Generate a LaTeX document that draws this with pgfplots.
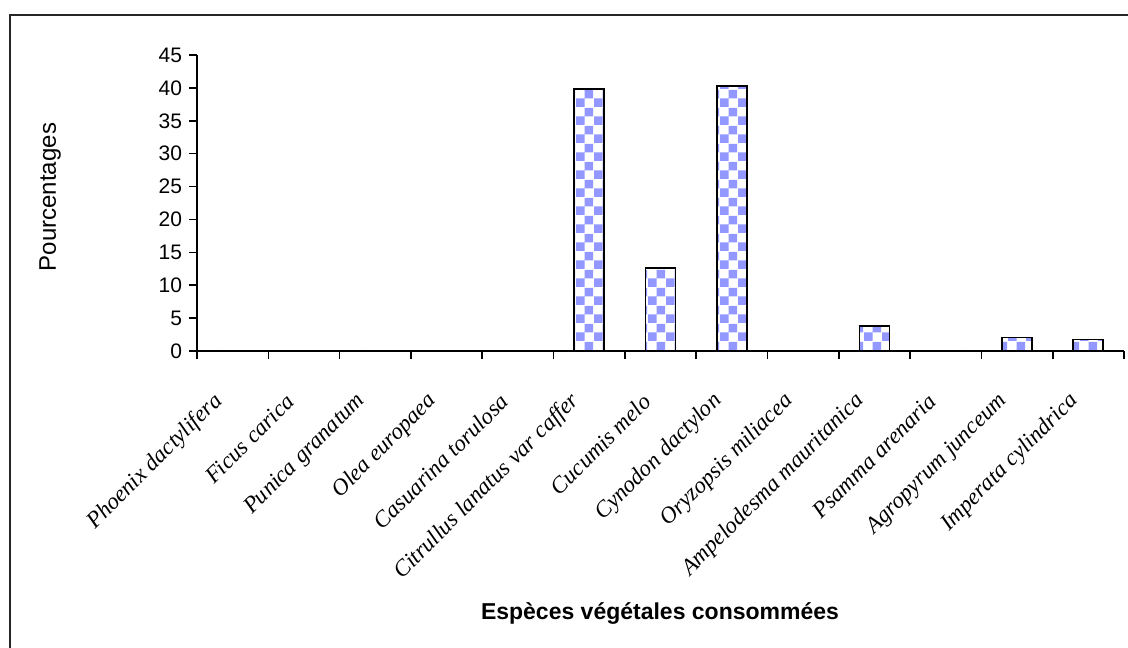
\documentclass[border=0pt]{standalone}
\usepackage{fontspec}
\setmainfont{Liberation Sans}
\newfontfamily\serifit{Liberation Serif}
\usepackage{pgfplots}
\pgfplotsset{compat=1.18}
\usetikzlibrary{patterns}
\definecolor{barblue}{RGB}{146,152,255}
\pgfdeclarepatternformonly{mychecker}{\pgfpointorigin}{\pgfpoint{9pt}{9pt}}{\pgfpoint{9pt}{9pt}}{%
  \pgfpathrectangle{\pgfpointorigin}{\pgfpoint{4.5pt}{4.5pt}}%
  \pgfpathrectangle{\pgfpoint{4.5pt}{4.5pt}}{\pgfpoint{4.5pt}{4.5pt}}%
  \pgfusepath{fill}}
\begin{document}
\begin{tikzpicture}
\useasboundingbox (-98.5pt,-148pt) rectangle (465.5pt,175.5pt);
\clip (-98.5pt,-148pt) rectangle (465.5pt,175.5pt);
\fill[white] (-98.5pt,-148pt) rectangle (465.5pt,175.5pt);
\draw[line width=1pt, black!85] (-93.5pt,-170pt) -- (-93.5pt,168pt) -- (480pt,168pt);
\begin{axis}[
  at={(0pt,0pt)}, anchor=south west,
  scale only axis, width=463.5pt, height=148pt,
  xmin=-0.5, xmax=12.5, ymin=0, ymax=45,
  enlargelimits=false,
  axis lines=left, axis line style={-, line width=0.8pt},
  tick align=outside, major tick length=4pt,
  tick style={black, line width=0.8pt},
  ytick={0,5,...,45},
  xtick={-0.5,0.5,...,12.5},
  x tick label as interval,
  xticklabels={Phoenix dactylifera, Ficus carica, Punica granatum, Olea europaea, Casuarina torulosa, Citrullus lanatus var caffer, Cucumis melo, Cynodon dactylon, Oryzopsis miliacea, Ampelodesma mauritanica, Psamma arenaria, Agropyrum junceum, Imperata cylindrica},
  xticklabel style={font=\serifit\itshape\fontsize{11.5}{13}\selectfont, rotate=45, anchor=east, xshift=-15pt, yshift=-9pt},
  yticklabel style={font=\fontsize{10.5}{12}\selectfont},
  /pgf/number format/assume math mode=true,
]
\addplot[ybar, bar width=15pt, draw=black, line width=0.9pt, pattern=mychecker, pattern color=barblue]
coordinates {(0,0) (1,0) (2,0) (3,0) (4,0) (5,39.8) (6,12.6) (7,40.3) (8,0) (9,3.85) (10,0) (11,2.05) (12,1.75)};
\end{axis}
\node[rotate=90, font=\fontsize{12}{14}\selectfont] at (-73.5pt,77pt) {Pourcentages};
\node[font=\bfseries\fontsize{11.5}{13}\selectfont] at (231.5pt,-131pt) {Espèces végétales consommées};
\end{tikzpicture}
\end{document}
